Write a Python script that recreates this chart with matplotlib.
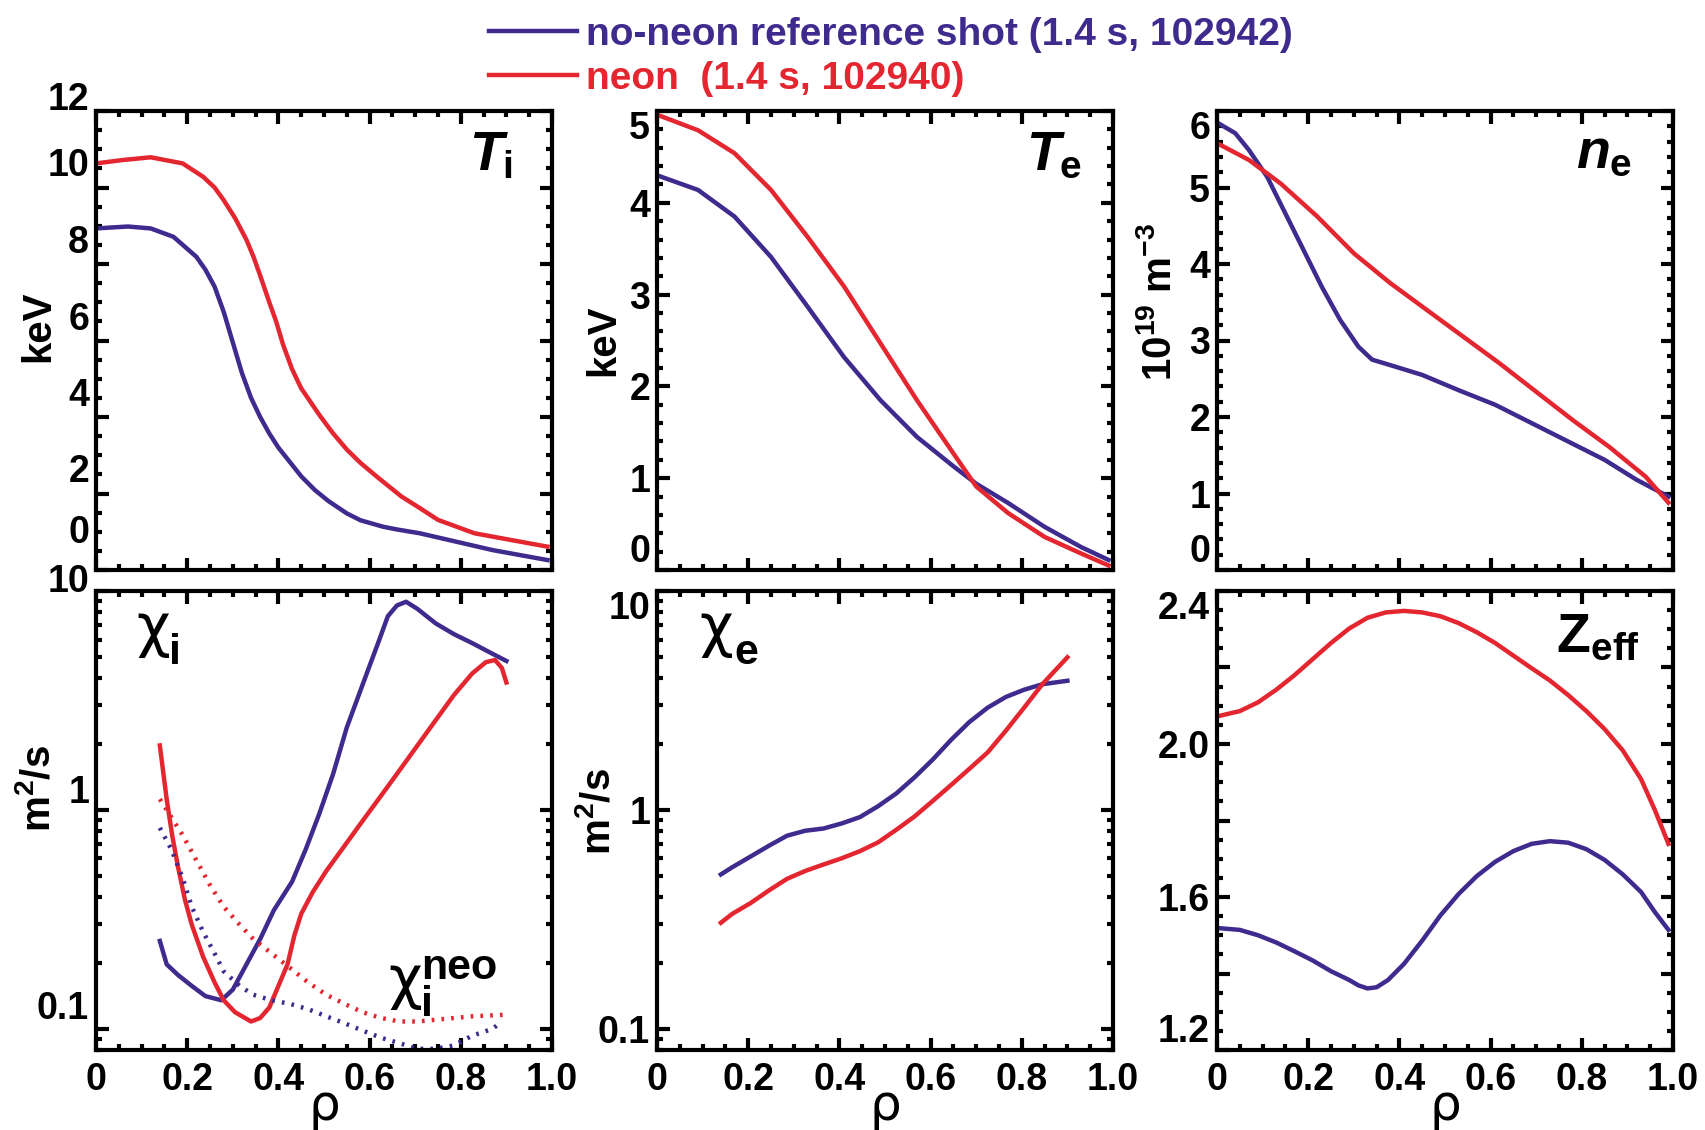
import matplotlib
matplotlib.use("Agg")
import matplotlib.pyplot as plt
import matplotlib.transforms as mtransforms
from matplotlib import font_manager
from matplotlib.ticker import MultipleLocator, LogLocator, NullFormatter
import numpy as np

# pick a bold narrow sans if there is one
names = {f.name for f in font_manager.fontManager.ttflist}
fam = next(n for n in ["Liberation Sans Narrow", "Liberation Sans", "DejaVu Sans"] if n in names)

plt.rcParams["font.family"] = [fam, "DejaVu Sans"]
plt.rcParams["font.weight"] = "bold"
plt.rcParams["axes.labelweight"] = "bold"
plt.rcParams["mathtext.fontset"] = "custom"
plt.rcParams["mathtext.rm"] = fam + ":bold"
plt.rcParams["mathtext.bf"] = fam + ":bold"
plt.rcParams["mathtext.it"] = fam + ":italic:bold"
plt.rcParams["axes.linewidth"] = 3

BLUE = "#3f2a8e"
RED = "#e3262f"

# ---------------- data ----------------
# T_i (keV)
ti_rho_blue = [0.0, 0.07, 0.12, 0.17, 0.22, 0.24, 0.26, 0.28, 0.295, 0.31, 0.32, 0.34, 0.36, 0.38, 0.40, 0.43,
               0.45, 0.48, 0.51, 0.55, 0.58, 0.63, 0.66, 0.71, 0.79, 0.87, 0.99]
ti_blue = [8.93, 8.98, 8.93, 8.71, 8.19, 7.85, 7.41, 6.75, 6.15, 5.55, 5.15, 4.5, 4.0, 3.57, 3.2, 2.75,
           2.45, 2.09, 1.8, 1.48, 1.3, 1.13, 1.06, 0.96, 0.74, 0.52, 0.26]
ti_rho_red = [0.0, 0.06, 0.12, 0.19, 0.235, 0.26, 0.28, 0.305, 0.33, 0.345, 0.36, 0.38, 0.395, 0.41, 0.43,
              0.45, 0.47, 0.49, 0.52, 0.55, 0.58, 0.62, 0.67, 0.71, 0.75, 0.83, 0.99]
ti_red = [10.63, 10.72, 10.79, 10.63, 10.28, 10.0, 9.67, 9.2, 8.63, 8.2, 7.7, 7.0, 6.5, 5.9, 5.25,
          4.75, 4.4, 4.05, 3.57, 3.15, 2.8, 2.4, 1.92, 1.62, 1.31, 0.96, 0.61]

# T_e (keV)
te_rho = [0.0, 0.09, 0.17, 0.25, 0.33, 0.41, 0.49, 0.57, 0.65, 0.70, 0.77, 0.85, 0.93, 0.99]
te_blue = [4.30, 4.14, 3.85, 3.41, 2.87, 2.32, 1.85, 1.45, 1.13, 0.94, 0.73, 0.47, 0.25, 0.11]
te_red = [4.96, 4.79, 4.54, 4.14, 3.63, 3.09, 2.47, 1.85, 1.27, 0.91, 0.62, 0.36, 0.18, 0.05]

# n_e (1e19 m^-3)
ne_rho_blue = [0.0, 0.04, 0.07, 0.11, 0.15, 0.19, 0.23, 0.27, 0.31, 0.34, 0.39, 0.45, 0.53, 0.61, 0.69, 0.77,
               0.85, 0.92, 0.99]
ne_blue = [5.85, 5.71, 5.49, 5.14, 4.66, 4.18, 3.70, 3.27, 2.92, 2.75, 2.66, 2.55, 2.35, 2.16, 1.92, 1.68,
           1.44, 1.18, 0.96]
ne_rho_red = [0.0, 0.07, 0.14, 0.22, 0.30, 0.38, 0.46, 0.54, 0.62, 0.70, 0.78, 0.86, 0.94, 0.99]
ne_red = [5.58, 5.36, 5.05, 4.62, 4.14, 3.75, 3.40, 3.05, 2.70, 2.33, 1.96, 1.61, 1.22, 0.88]

# chi_i (m^2/s)
chii_rho_blue = [0.14, 0.155, 0.18, 0.21, 0.24, 0.275, 0.30, 0.33, 0.36, 0.39, 0.43, 0.46, 0.49, 0.52, 0.55,
                 0.585, 0.62, 0.64, 0.66, 0.68, 0.705, 0.745, 0.785, 0.825, 0.87, 0.90]
chii_blue = [0.252, 0.197, 0.176, 0.157, 0.141, 0.135, 0.151, 0.197, 0.257, 0.348, 0.470, 0.661, 0.964, 1.46,
             2.38, 3.75, 5.89, 7.67, 8.59, 8.93, 8.28, 7.11, 6.35, 5.78, 5.16, 4.79]
chii_rho_red = [0.14, 0.147, 0.155, 0.167, 0.18, 0.195, 0.21, 0.235, 0.26, 0.28, 0.305, 0.34, 0.36, 0.38,
                0.40, 0.42, 0.435, 0.45, 0.475, 0.505, 0.545, 0.585, 0.625, 0.665, 0.705, 0.745, 0.785,
                0.825, 0.855, 0.875, 0.89, 0.90]
chii_red = [1.97, 1.51, 1.12, 0.767, 0.547, 0.389, 0.299, 0.213, 0.163, 0.135, 0.119, 0.108, 0.112, 0.125,
            0.157, 0.197, 0.267, 0.335, 0.420, 0.526, 0.685, 0.893, 1.16, 1.51, 1.97, 2.57, 3.35,
            4.20, 4.73, 4.84, 4.45, 3.82]
neo_rho_red = [0.14, 0.165, 0.19, 0.22, 0.25, 0.28, 0.315, 0.345, 0.385, 0.425, 0.465, 0.505, 0.545, 0.585,
               0.625, 0.665, 0.705, 0.745, 0.785, 0.825, 0.90]
neo_red = [1.12, 0.927, 0.767, 0.589, 0.453, 0.361, 0.299, 0.257, 0.221, 0.190, 0.163, 0.143, 0.130, 0.119,
           0.112, 0.108, 0.108, 0.110, 0.112, 0.114, 0.116]
neo_rho_blue = [0.14, 0.165, 0.19, 0.21, 0.235, 0.26, 0.28, 0.315, 0.345, 0.385, 0.425, 0.465, 0.505, 0.545,
                0.585, 0.625, 0.665, 0.705, 0.745, 0.785, 0.825, 0.87, 0.89]
neo_blue = [0.828, 0.661, 0.489, 0.361, 0.277, 0.221, 0.183, 0.157, 0.143, 0.135, 0.130, 0.123, 0.114, 0.106,
            0.098, 0.091, 0.086, 0.081, 0.081, 0.084, 0.093, 0.100, 0.108]

# chi_e (m^2/s)
chie_rho = [0.14, 0.165, 0.205, 0.245, 0.285, 0.325, 0.365, 0.405, 0.445, 0.485, 0.525, 0.565, 0.605, 0.645,
            0.685, 0.725, 0.765, 0.805, 0.845, 0.90]
chie_blue = [0.507, 0.547, 0.612, 0.685, 0.762, 0.803, 0.822, 0.867, 0.927, 1.04, 1.19, 1.41, 1.70, 2.09,
             2.52, 2.93, 3.28, 3.54, 3.75, 3.89]
chie_red = [0.305, 0.335, 0.375, 0.428, 0.484, 0.526, 0.563, 0.601, 0.648, 0.711, 0.812, 0.934, 1.10, 1.30,
            1.54, 1.83, 2.30, 2.93, 3.75, 4.98]

# Z_eff
z_rho_red = [0.0, 0.05, 0.09, 0.13, 0.17, 0.21, 0.25, 0.29, 0.33, 0.37, 0.41, 0.45, 0.49, 0.53, 0.57, 0.61,
             0.65, 0.69, 0.73, 0.77, 0.81, 0.85, 0.89, 0.93, 0.96, 0.99]
z_red = [2.072, 2.086, 2.109, 2.142, 2.180, 2.222, 2.264, 2.302, 2.330, 2.344, 2.348, 2.344, 2.334, 2.316,
         2.292, 2.264, 2.231, 2.198, 2.166, 2.128, 2.086, 2.039, 1.983, 1.908, 1.828, 1.739]
z_rho_blue = [0.0, 0.05, 0.09, 0.13, 0.17, 0.21, 0.25, 0.29, 0.31, 0.33, 0.35, 0.375, 0.41, 0.45, 0.49, 0.53,
              0.57, 0.61, 0.65, 0.69, 0.73, 0.77, 0.81, 0.85, 0.89, 0.93, 0.96, 0.99]
z_blue = [1.519, 1.514, 1.500, 1.481, 1.458, 1.434, 1.406, 1.383, 1.369, 1.361, 1.364, 1.383, 1.425, 1.486,
          1.552, 1.608, 1.655, 1.692, 1.720, 1.739, 1.746, 1.742, 1.725, 1.697, 1.659, 1.613, 1.561, 1.514]

x_ticks = [0, 0.2, 0.4, 0.6, 0.8, 1.0]
x_ticklabels = ["0", "0.2", "0.4", "0.6", "0.8", "1.0"]

# ---------------- figure ----------------
W, H = 1705, 1130
fig = plt.figure(figsize=(W / 100, H / 100), dpi=100)


def make_ax(left, top):
    return fig.add_axes([left / W, 1 - (top + 459) / H, 456 / W, 459 / H])


def style(ax, bottom_row):
    ax.set_xlim(0, 1)
    ax.set_xticks(x_ticks)
    ax.xaxis.set_minor_locator(MultipleLocator(0.05))
    ax.tick_params(which="both", direction="in", top=True, right=True, width=3, labelsize=27)
    ax.tick_params(which="major", length=9)
    ax.tick_params(which="minor", length=4)
    ax.tick_params(axis="y", pad=5)
    ax.tick_params(axis="x", pad=9)
    if bottom_row:
        ax.set_xticklabels(x_ticklabels)
        ax.set_xlabel("ρ", fontsize=36, fontweight="normal", family="DejaVu Sans", labelpad=-12)
    else:
        ax.set_xticklabels([])


def shift_ylabels(ax, offsets):
    # the left column has its tick numbers sitting above the tick marks
    for t, dy in zip(ax.yaxis.get_major_ticks(), offsets):
        off = mtransforms.ScaledTranslation(0, dy / 100, fig.dpi_scale_trans)
        t.label1.set_transform(t.label1.get_transform() + off)


def edge_ylabels(ax, top=True, bottom=True):
    ticks = ax.yaxis.get_major_ticks()
    if top:
        ticks[-1].label1.set_va("top")
    if bottom:
        ticks[0].label1.set_va("bottom")


def ylab(ax, s, x, y):
    ax.set_ylabel(s, fontsize=29)
    ax.yaxis.label.set_va("center")
    ax.yaxis.set_label_coords(x, y)


def chi(ax, x, y, sub, sup=None, dx=0.072, size=42):
    ax.text(x, y, "χ", transform=ax.transAxes, fontsize=size, fontweight="normal", family="DejaVu Sans")
    ax.text(x + dx, y - 0.04, sub, transform=ax.transAxes, fontsize=31)
    if sup:
        ax.text(x + dx, y + 0.042, sup, transform=ax.transAxes, fontsize=31)


lw = 3.2
dots = (0, (0.6, 1.6))

# T_i
ax1 = make_ax(96, 111)
ax1.plot(ti_rho_blue, ti_blue, color=BLUE, lw=lw, label="no-neon reference shot (1.4 s, 102942)")
ax1.plot(ti_rho_red, ti_red, color=RED, lw=lw, label="neon  (1.4 s, 102940)")
ax1.set_ylim(0, 12)
ax1.set_yticks(range(0, 13, 2))
ax1.yaxis.set_minor_locator(MultipleLocator(0.5))
style(ax1, False)
shift_ylabels(ax1, [41, 25, 25, 25, 25, 25, 15])
ylab(ax1, "keV", -0.127, 0.53)
ax1.text(0.818, 0.871, r"$\mathit{T}_\mathrm{i}$", transform=ax1.transAxes, fontsize=40)

# T_e
ax2 = make_ax(657, 111)
ax2.plot(te_rho, te_blue, color=BLUE, lw=lw)
ax2.plot(te_rho, te_red, color=RED, lw=lw)
ax2.set_ylim(0, 5)
ax2.set_yticks(range(0, 6))
ax2.yaxis.set_minor_locator(MultipleLocator(0.2))
style(ax2, False)
edge_ylabels(ax2)
ylab(ax2, "keV", -0.118, 0.50)
ax2.text(0.809, 0.871, r"$\mathit{T}_\mathrm{e}$", transform=ax2.transAxes, fontsize=40)

# n_e
ax3 = make_ax(1217, 111)
ax3.plot(ne_rho_blue, ne_blue, color=BLUE, lw=lw)
ax3.plot(ne_rho_red, ne_red, color=RED, lw=lw)
ax3.set_ylim(0, 6)
ax3.set_yticks(range(0, 7))
ax3.yaxis.set_minor_locator(MultipleLocator(0.2))
style(ax3, False)
edge_ylabels(ax3)
ylab(ax3, r"10$^{19}$ m$^{-3}$", -0.127, 0.585)
ax3.text(0.788, 0.875, r"$\mathit{n}_\mathrm{e}$", transform=ax3.transAxes, fontsize=40)

# chi_i
ax4 = make_ax(96, 591)
ax4.plot(chii_rho_blue, chii_blue, color=BLUE, lw=lw)
ax4.plot(chii_rho_red, chii_red, color=RED, lw=lw)
ax4.plot(neo_rho_red, neo_red, color=RED, lw=lw, ls=dots)
ax4.plot(neo_rho_blue, neo_blue, color=BLUE, lw=lw, ls=dots)
ax4.set_yscale("log")
ax4.set_ylim(0.08, 10)
ax4.set_yticks([0.1, 1, 10])
ax4.set_yticklabels(["0.1", "1", "10"])
ax4.yaxis.set_minor_locator(LogLocator(subs=np.arange(2, 10)))
ax4.yaxis.set_minor_formatter(NullFormatter())
style(ax4, True)
shift_ylabels(ax4, [24, 21, 13])
ylab(ax4, r"m$^2$/s", -0.127, 0.57)
chi(ax4, 0.088, 0.880, "i")
chi(ax4, 0.641, 0.113, "i", sup="neo")

# chi_e
ax5 = make_ax(657, 591)
ax5.plot(chie_rho, chie_blue, color=BLUE, lw=lw)
ax5.plot(chie_rho, chie_red, color=RED, lw=lw)
ax5.set_yscale("log")
ax5.set_ylim(0.08, 10)
ax5.set_yticks([0.1, 1, 10])
ax5.set_yticklabels(["0.1", "1", "10"])
ax5.yaxis.set_minor_locator(LogLocator(subs=np.arange(2, 10)))
ax5.yaxis.set_minor_formatter(NullFormatter())
style(ax5, True)
edge_ylabels(ax5, bottom=False)
ylab(ax5, r"m$^2$/s", -0.129, 0.52)
chi(ax5, 0.092, 0.880, "e", dx=0.077)

# Z_eff
ax6 = make_ax(1217, 591)
ax6.plot(z_rho_red, z_red, color=RED, lw=lw)
ax6.plot(z_rho_blue, z_blue, color=BLUE, lw=lw)
ax6.set_ylim(1.2, 2.4)
ax6.set_yticks([1.2, 1.4, 1.6, 1.8, 2.0, 2.2, 2.4])
ax6.set_yticklabels(["1.2", "", "1.6", "", "2.0", "", "2.4"])
ax6.yaxis.set_minor_locator(MultipleLocator(0.05))
style(ax6, True)
edge_ylabels(ax6)
ax6.text(0.744, 0.867, r"Z$_\mathrm{eff}$", transform=ax6.transAxes, fontsize=40)

# legend at top
fig.legend(loc="upper left", bbox_to_anchor=(489 / W, 1 - 17 / H), frameon=False,
           fontsize=28, handlelength=2.25, handletextpad=0.25, labelspacing=0.2,
           borderpad=0, borderaxespad=0, labelcolor="linecolor")

fig.savefig("out.png", dpi=100)
